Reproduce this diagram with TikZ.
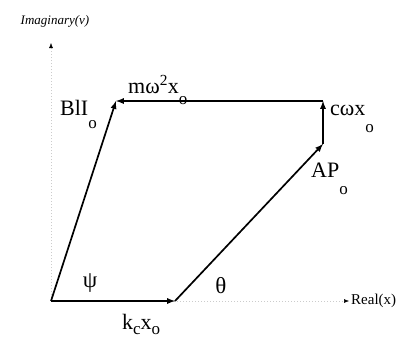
\documentclass[tikz,border=0pt]{standalone}
\usepackage{fontspec}
\setmainfont{Liberation Serif}
\usetikzlibrary{arrows.meta}
% lowered subscript, as set in the original figure
\newcommand{\lo}[2][13pt]{\raisebox{-#1}{\fontsize{17}{17}\selectfont #2}}
\begin{document}
\begin{tikzpicture}[x=1pt, y=-1pt,
    vec/.style={-latex, line width=1.7pt},
    axis/.style={-{Latex[color=black, length=5pt, width=4pt]}, gray!40, dash pattern=on 1pt off 2pt, line width=0.5pt},
    lbl/.style={anchor=base west, inner sep=0pt, font=\fontsize{22}{22}\selectfont},
    ang/.style={inner sep=0pt, font=\fontsize{23}{23}\selectfont}
  ]
    \useasboundingbox (0,0) rectangle (414,338);
    \coordinate (O) at (51,301);
    \coordinate (K) at (175,301);
    \coordinate (P) at (323,144);
    \coordinate (C) at (323,101);
    \coordinate (T) at (116,101);
    \coordinate (imag) at (51,43);
    \coordinate (real) at (349,301);

    \draw[axis] (O) -- (imag);
    \draw[axis] (O) -- (real);

    \node[font=\itshape\fontsize{13}{13}\selectfont] (imlbl) at (55,21) {Imaginary(v)};
    \node[anchor=west, inner sep=2pt, font=\fontsize{15}{15}\selectfont] (relbl) at (real) {Real(x)};

    \draw[vec] (O) -- (K);
    \draw[vec] (K) -- (P);
    \draw[vec] (P) -- (C);
    \draw[vec] (C) -- (T);
    \draw[vec] (O) -- (T);

    \node[lbl] (bli) at (60,115) {BlI\lo{o}};
    \node[lbl] (mw) at (128,93) {mω\textsuperscript{2}x\lo[11pt]{o}};
    \node[lbl] (cw) at (330,115) {cωx\lo[17pt]{o}};
    \node[lbl] (ap) at (311,177) {AP\lo[17pt]{o}};
    \node[lbl] (kx) at (122,329) {k\lo[5pt]{c}x\lo[5pt]{o}};
    \node[ang] (psi) at (90,283) {ψ};
    \node[ang] (theta) at (221,286) {θ};
  \end{tikzpicture}
\end{document}
